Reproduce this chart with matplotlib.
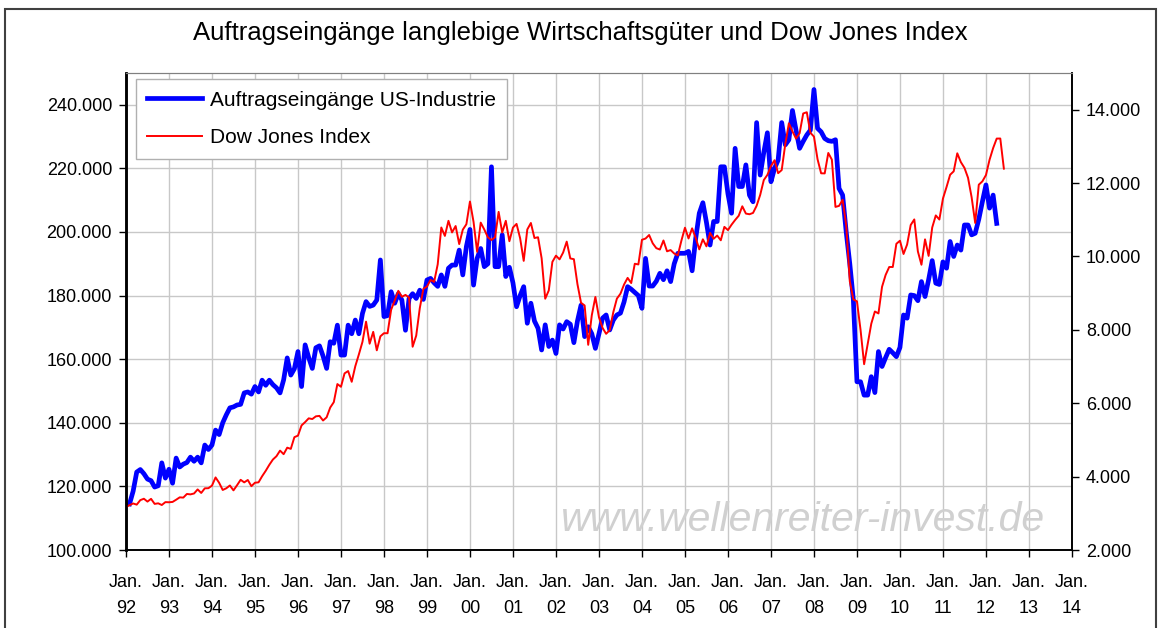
import numpy as np
import matplotlib.pyplot as plt
import matplotlib.patches as mpatches
from matplotlib.ticker import FuncFormatter

plt.rcParams['font.family'] = ['Liberation Sans', 'DejaVu Sans']

# Durable goods new orders, monthly from Jan 92 (Jan 92 missing)
orders = [
    np.nan, 114500, 118500, 124500, 125300, 124000, 122300, 121800, 119800, 120200, 127400, 122600,  # 1992
    125400, 121000, 128900, 126100, 127000, 127500, 129200, 127900, 129200, 127400, 133000, 131600,  # 1993
    133000, 137700, 136300, 140000, 142500, 144700, 145000, 145600, 145800, 149400, 149700, 149000,  # 1994
    151400, 149700, 153400, 151800, 153400, 152000, 151000, 149400, 153500, 160400, 155000, 157000,  # 1995
    162400, 151400, 164500, 160500, 157100, 163600, 164200, 161000, 157100, 165500, 165000, 170700,  # 1996
    161300, 161300, 170700, 168000, 172300, 168000, 174400, 178100, 176600, 177000, 178600, 191200,  # 1997
    173400, 173700, 181200, 177600, 180600, 178600, 169100, 179100, 180600, 179100, 181700, 178800,  # 1998
    184900, 185400, 184000, 182900, 186500, 182900, 188600, 189600, 189600, 194300, 186500, 195400,  # 1999
    200800, 183300, 191700, 194800, 189100, 190000, 220500, 189100, 189100, 199100, 186000, 188900,  # 2000
    184000, 176500, 180000, 182800, 171300, 177600, 172000, 169700, 162900, 170800, 164000, 166000,  # 2001
    161800, 170800, 169500, 171800, 171000, 165200, 172000, 177000, 167100, 170200, 168000, 163400,  # 2002
    168000, 172900, 173900, 169200, 172300, 173900, 174500, 178000, 182800, 182000, 181000, 180000,  # 2003
    176000, 191700, 183000, 183000, 184500, 187000, 185000, 187800, 184400, 190000, 193300, 193300,  # 2004
    193300, 193900, 187800, 198000, 205900, 209200, 203000, 195900, 203300, 203300, 220500, 220500,  # 2005
    212000, 205900, 226300, 214300, 214300, 221100, 211600, 209500, 234400, 217900, 225000, 231200,  # 2006
    215800, 220000, 222600, 234400, 227400, 229000, 238200, 232000, 226300, 228500, 230500, 232000,  # 2007
    244800, 232600, 231500, 229400, 228700, 228500, 229000, 213700, 211600, 200000, 190000, 178600,  # 2008
    152900, 152900, 148700, 148700, 154500, 149500, 162400, 157700, 160500, 163100, 162000, 160800,  # 2009
    163700, 173900, 172900, 180200, 180000, 178400, 184400, 179700, 185000, 191000, 183900, 183500,  # 2010
    190600, 188600, 197000, 192300, 195900, 194300, 202200, 202200, 199100, 199600, 204000, 209500,  # 2011
    214800, 207500, 211600, 202700,                                                                  # 2012
]

# Dow Jones Index, value at start of each month from Jan 92
dow = [
    3169, 3223, 3268, 3236, 3359, 3397, 3319, 3394, 3257, 3272, 3226, 3305,
    3301, 3310, 3370, 3435, 3428, 3527, 3516, 3540, 3651, 3555, 3681, 3684,
    3754, 3978, 3832, 3636, 3682, 3758, 3625, 3765, 3913, 3843, 3908, 3739,
    3834, 3844, 4011, 4158, 4321, 4465, 4556, 4709, 4611, 4789, 4756, 5075,
    5117, 5395, 5486, 5588, 5569, 5643, 5655, 5529, 5616, 5882, 6029, 6522,
    6448, 6813, 6877, 6584, 7009, 7331, 7673, 8223, 7622, 7945, 7442, 7823,
    7908, 7907, 8546, 8800, 9063, 8900, 8952, 8883, 7539, 7843, 8592, 9117,
    9181, 9359, 9307, 9786, 10789, 10560, 10971, 10655, 10829, 10337, 10730, 10878,
    11497, 10941, 10128, 10922, 10734, 10522, 10448, 10522, 11215, 10651, 10971, 10415,
    10787, 10887, 10495, 9879, 10735, 10912, 10502, 10523, 9950, 8848, 9075, 9852,
    10022, 9920, 10106, 10404, 9946, 9925, 9243, 8737, 8664, 7592, 8397, 8896,
    8342, 8054, 7891, 7992, 8480, 8850, 8985, 9234, 9416, 9275, 9801, 9782,
    10454, 10488, 10584, 10358, 10226, 10188, 10435, 10140, 10174, 10080, 10027, 10428,
    10783, 10490, 10766, 10504, 10193, 10467, 10275, 10641, 10482, 10569, 10440, 10806,
    10718, 10865, 10993, 11109, 11367, 11168, 11150, 11186, 11381, 11679, 12081, 12222,
    12463, 12622, 12269, 12354, 13063, 13628, 13409, 13212, 13358, 13896, 13930, 13372,
    13265, 12650, 12266, 12263, 12820, 12638, 11350, 11378, 11544, 10851, 9325, 8829,
    8776, 8001, 7063, 7609, 8168, 8500, 8447, 9172, 9496, 9712, 9713, 10345,
    10428, 10067, 10325, 10857, 11009, 10137, 9774, 10466, 10015, 10788, 11118, 11006,
    11578, 11892, 12226, 12320, 12811, 12570, 12414, 12143, 11614, 10913, 11955, 12046,
    12218, 12633, 12952, 13212, 13214, 12393,
]

years = list(range(1992, 2015))
year_labels = ["Jan.\n%02d" % (y % 100) for y in years]

x_orders = 1992 + np.arange(len(orders)) / 12.0
x_dow = 1992 + np.arange(len(dow)) / 12.0

def dotted(v, pos):
    return "{:,.0f}".format(v).replace(",", ".")

fig = plt.figure(figsize=(11.61, 6.28), dpi=100)
ax = fig.add_axes([0.1085, 0.1242, 0.8148, 0.7596])
ax2 = ax.twinx()

# Plot
ax.plot(x_orders, orders, color='#0000ff', lw=3.4, solid_joinstyle='round')
ax2.plot(x_dow, dow, color='#ff0000', lw=1.4)

ax.set_xlim(1992, 2014)
ax.set_ylim(100000, 250000)
ax2.set_ylim(2000, 15000)
ax.set_yticks(np.arange(100000, 250000, 20000))
ax2.set_yticks(np.arange(2000, 15000, 2000))
ax.yaxis.set_major_formatter(FuncFormatter(dotted))
ax2.yaxis.set_major_formatter(FuncFormatter(dotted))
ax.set_xticks(years)
ax.set_xticklabels(year_labels, linespacing=1.75)

ax.grid(True, color='#c8c8c8', lw=1.0)
ax.set_axisbelow(True)

for a in (ax, ax2):
    a.tick_params(axis='both', direction='out', length=5, width=1, labelsize=13, colors='black')
ax.tick_params(axis='x', pad=12)
ax.tick_params(axis='y', pad=5)
ax2.tick_params(axis='y', pad=5)

for a in (ax, ax2):
    a.spines['top'].set_color('#808080')
    a.spines['left'].set_linewidth(1.8)
    a.spines['bottom'].set_linewidth(1.2)
    a.spines['right'].set_linewidth(1.2)

fig.text(0.5, 0.947, "Auftragseingänge langlebige Wirtschaftsgüter und Dow Jones Index",
         ha='center', va='center', fontsize=18.5)

# watermark
ax.text(0.716, 0.062, "www.wellenreiter-invest.de", transform=ax.transAxes,
        ha='center', va='center', fontsize=29.5, color='#d0d0d0', style='italic')

orders_patch = plt.Line2D([], [], color='#0000ff', lw=3.4, label='Auftragseingänge US-Industrie')
dow_patch = plt.Line2D([], [], color='#ff0000', lw=1.4, label='Dow Jones Index')
leg = ax2.legend(handles=[orders_patch, dow_patch], loc='upper left',
                 bbox_to_anchor=(0.0106, 0.987), borderaxespad=0, fontsize=15,
                 fancybox=False, edgecolor='#b0b0b0', framealpha=1,
                 handlelength=2.6, handletextpad=0.4, labelspacing=0.9, borderpad=0.55)
leg.get_frame().set_linewidth(1.0)

# outer frame
fig.patches.append(mpatches.Rectangle((0.004, -0.05), 0.992, 1.035, transform=fig.transFigure,
                                      fill=False, edgecolor='#404040', lw=1.5))

fig.savefig("out.png", dpi=100)
